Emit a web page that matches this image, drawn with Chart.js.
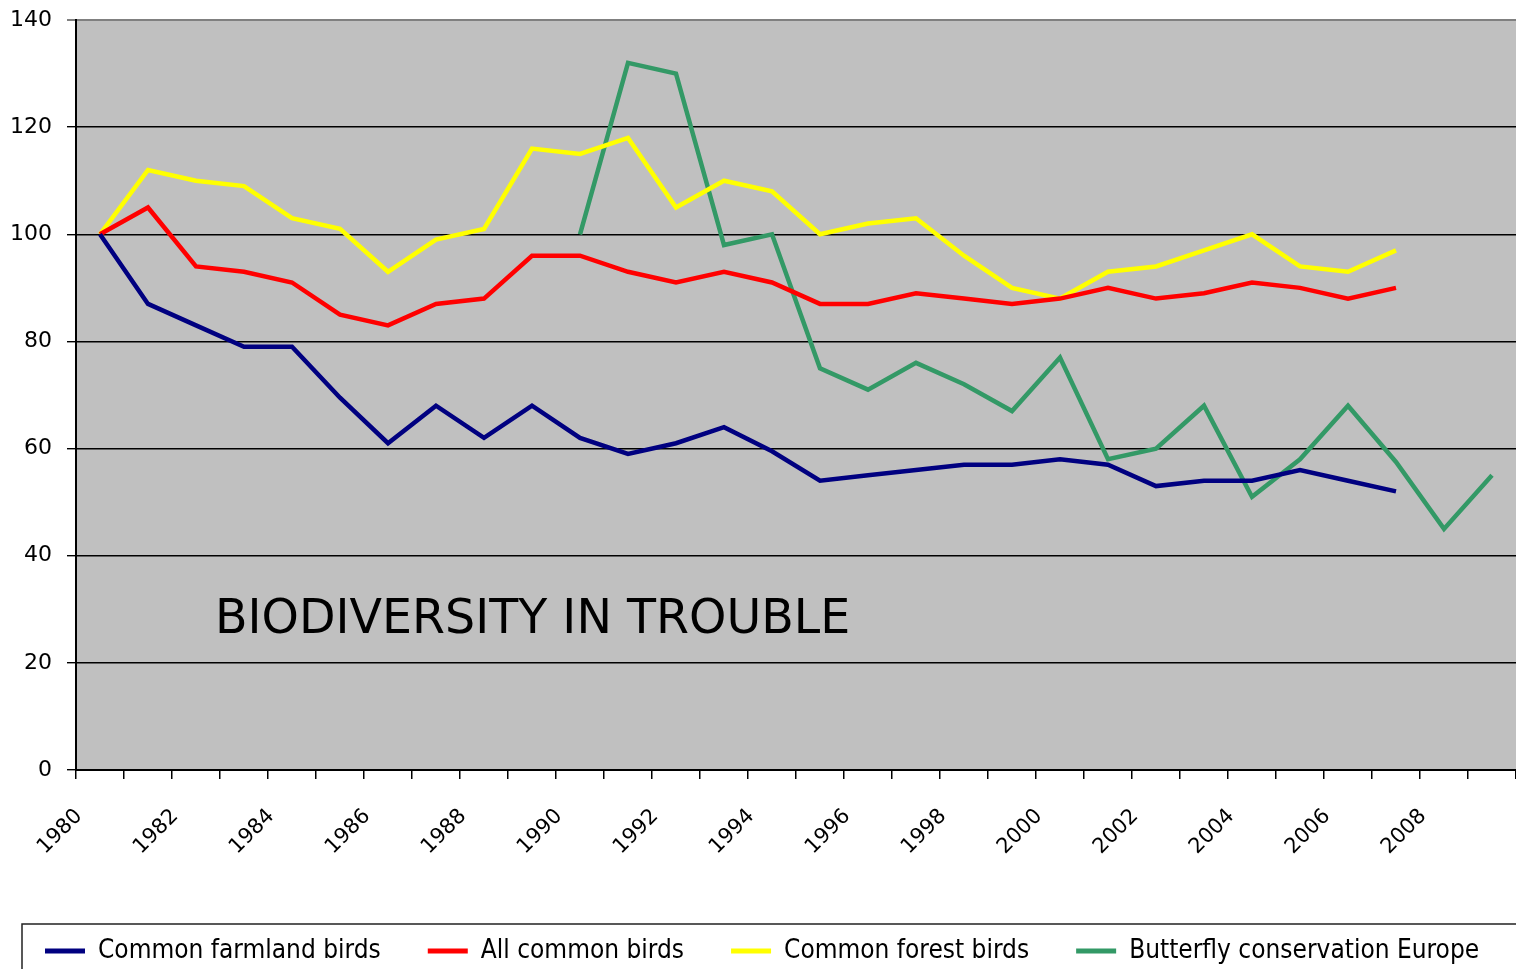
<!DOCTYPE html>
<html>
<head>
<meta charset="utf-8">
<title>Biodiversity in trouble</title>
<script src="https://cdn.jsdelivr.net/npm/chart.js@4/dist/chart.umd.min.js"></script>
<style>
  html, body { margin: 0; padding: 0; background: #ffffff; }
  #wrap { width: 1516px; height: 969px; }
</style>
</head>
<body>
<div id="wrap"><canvas id="chart" width="1516" height="969"></canvas></div>
<script>
// Years on the category axis
const years = [
  1980, 1981, 1982, 1983, 1984, 1985, 1986, 1987, 1988, 1989,
  1990, 1991, 1992, 1993, 1994, 1995, 1996, 1997, 1998, 1999,
  2000, 2001, 2002, 2003, 2004, 2005, 2006, 2007, 2008, 2009
];

// Index values (1980 = 100; butterflies 1990 = 100)
const farmlandBirds = [
  100, 87, 83, 79, 79, 69.5, 61, 68, 62, 68,
  62, 59, 61, 64, 59.5, 54, 55, 56, 57, 57,
  58, 57, 53, 54, 54, 56, 54, 52, null, null
];
const allCommonBirds = [
  100, 105, 94, 93, 91, 85, 83, 87, 88, 96,
  96, 93, 91, 93, 91, 87, 87, 89, 88, 87,
  88, 90, 88, 89, 91, 90, 88, 90, null, null
];
const forestBirds = [
  100, 112, 110, 109, 103, 101, 93, 99, 101, 116,
  115, 118, 105, 110, 108, 100, 102, 103, 96, 90,
  88, 93, 94, 97, 100, 94, 93, 97, null, null
];
const butterflies = [
  null, null, null, null, null, null, null, null, null, null,
  100, 132, 130, 98, 100, 75, 71, 76, 72, 67,
  77, 58, 60, 68, 51, 58, 68, 57.5, 45, 55
];

const seriesNames = [
  'Common farmland birds',
  'All common birds',
  'Common forest birds',
  'Butterfly conservation Europe'
];
const seriesColors = ['#000080', '#FF0000', '#FFFF00', '#339966'];

const yTicks = [0, 20, 40, 60, 80, 100, 120, 140];
const headline = 'BIODIVERSITY IN TROUBLE';

const xAxisFont = { family: "'DejaVu Sans', Verdana, sans-serif", size: 21 };
const yAxisFont = { family: "'DejaVu Sans', Verdana, sans-serif", size: 22 };
const legendFont = { family: "'Comic Sans MS', 'DejaVu Sans Condensed', 'DejaVu Sans', sans-serif", size: 26 };
const legendStartX = 45;

// Grey plot area behind the series
const plotBackground = {
  id: 'plotBackground',
  beforeDraw(chart) {
    const { ctx, chartArea: a } = chart;
    ctx.save();
    ctx.fillStyle = '#C0C0C0';
    ctx.fillRect(a.left, a.top, a.right - a.left, a.bottom - a.top);
    ctx.restore();
  }
};

// Legend row starts near the left edge and runs on to the right
const legendPlacement = {
  id: 'legendPlacement',
  afterLayout(chart) {
    const lg = chart.legend;
    if (!lg) return;
    const pad = lg.options.labels.padding;
    lg.left = legendStartX - pad;
    lg.right = lg.left + 2000;
    lg.width = lg.right - lg.left;
  }
};

// Headline written inside the plot area, and the frame round the legend
const decorations = {
  id: 'decorations',
  afterDatasetsDraw(chart) {
    const { ctx, chartArea: a, scales } = chart;
    ctx.save();
    ctx.font = "47.5px 'DejaVu Sans', Verdana, sans-serif";
    ctx.fillStyle = '#000000';
    ctx.textBaseline = 'alphabetic';
    ctx.textAlign = 'left';
    ctx.fillText(headline, a.left + 139, scales.y.getPixelForValue(25.6));
    ctx.restore();
  },
  afterDraw(chart) {
    const lg = chart.legend;
    if (!lg || !lg.legendHitBoxes || !lg.legendHitBoxes.length) return;
    const hb = lg.legendHitBoxes[0];
    const cy = hb.top + hb.height / 2;
    const { ctx } = chart;
    ctx.save();
    ctx.strokeStyle = '#222222';
    ctx.lineWidth = 1.5;
    ctx.strokeRect(hb.left - 23, cy - 27, chart.width + 50, 120);
    ctx.restore();
  }
};

const datasets = [farmlandBirds, allCommonBirds, forestBirds, butterflies].map((values, i) => ({
  label: seriesNames[i],
  data: values,
  borderColor: seriesColors[i],
  backgroundColor: seriesColors[i],
  borderWidth: 4.5,
  pointRadius: 0,
  pointHoverRadius: 0,
  tension: 0,
  spanGaps: false,
  fill: false
}));

new Chart(document.getElementById('chart'), {
  type: 'line',
  data: { labels: years.map(String), datasets },
  plugins: [plotBackground, legendPlacement, decorations],
  options: {
    responsive: false,
    devicePixelRatio: 1,
    animation: false,
    events: [],
    layout: { padding: { left: -40, right: 0, top: 20, bottom: -5 } },
    plugins: {
      tooltip: { enabled: false },
      title: { display: false },
      legend: {
        position: 'bottom',
        align: 'start',
        labels: {
          color: '#000000',
          font: legendFont,
          boxWidth: 40,
          boxHeight: 5,
          padding: 47,
          generateLabels(chart) {
            return chart.data.datasets.map((ds, i) => ({
              text: ds.label,
              fillStyle: ds.borderColor,
              strokeStyle: ds.borderColor,
              lineWidth: 0,
              hidden: false,
              datasetIndex: i,
              fontColor: '#000000'
            }));
          }
        }
      }
    },
    scales: {
      x: {
        type: 'category',
        offset: true,
        grid: {
          offset: true,
          drawOnChartArea: false,
          drawTicks: true,
          tickLength: 9,
          color: '#000000',
          lineWidth: 1.5
        },
        border: { display: true, color: '#000000', width: 2 },
        ticks: {
          color: '#000000',
          font: xAxisFont,
          autoSkip: false,
          maxRotation: 45,
          minRotation: 45,
          padding: 25,
          labelOffset: -21,
          callback(value, index) {
            const yr = years[index];
            return yr % 2 === 0 ? String(yr) : '';
          }
        },
        afterFit(scale) {
          scale.height = 121;
          scale.paddingLeft = 0;
          scale.paddingRight = 0;
        }
      },
      y: {
        min: 0,
        max: 140,
        afterBuildTicks(scale) { scale.ticks = yTicks.map(v => ({ value: v })); },
        grid: {
          drawTicks: true,
          tickLength: 9,
          color(ctx) { return ctx.tick && ctx.tick.value === 140 ? '#808080' : '#000000'; },
          lineWidth(ctx) { return ctx.tick && ctx.tick.value === 140 ? 2 : 1.4; }
        },
        border: { display: true, color: '#000000', width: 2 },
        ticks: {
          color: '#000000',
          font: yAxisFont,
          padding: 15
        },
        afterFit(scale) {
          scale.width = 116;
          scale.paddingTop = 0;
          scale.paddingBottom = 0;
        }
      }
    }
  }
});
</script>
</body>
</html>
